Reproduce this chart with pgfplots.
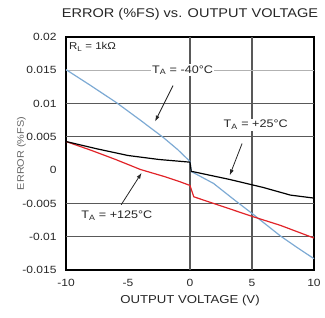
\documentclass[border=0pt]{standalone}
\usepackage{fontspec}
\setmainfont{Liberation Sans}[FakeStretch=1.15]
\usepackage{pgfplots}
\pgfplotsset{compat=1.18}
\usetikzlibrary{arrows.meta}
\definecolor{cblue}{RGB}{125,170,212}
\definecolor{cred}{RGB}{225,35,40}
\begin{document}
\begin{tikzpicture}
\useasboundingbox (0,0) rectangle (325bp,318bp);
\begin{axis}[
  at={(66bp,48bp)}, anchor=south west,
  scale only axis, width=248bp, height=233bp,
  xmin=-10, xmax=10, ymin=-0.015, ymax=0.02,
  xtick={-10,-5,0,5,10},
  xticklabels={-10,-5,0,5,10},
  ytick={-0.015,-0.01,-0.005,0,0.005,0.01,0.015,0.02},
  yticklabels={-0.015,-0.01,-0.005,0,0.005,0.01,0.015,0.02},
  scaled y ticks=false,
  major tick length=0pt,
  axis line style={line width=1.6pt},
  tick label style={font=\fontsize{10.5}{12}\selectfont, text=black!85},
  xticklabel style={yshift=-6bp},
  yticklabel style={xshift=-6bp},
  title={ERROR (\%FS) vs. OUTPUT VOLTAGE},
  title style={font=\fontsize{12.7}{14}\selectfont, text=black!85, at={(axis description cs:0.5,1)}, anchor=center, yshift=17bp},
  xlabel={OUTPUT VOLTAGE (V)},
  xlabel style={font=\fontsize{11.5}{13}\selectfont, text=black!85, at={(axis description cs:0.5,0)}, anchor=center, yshift=-31bp},
  ylabel={ERROR (\%FS)},
  ylabel style={font=\fontsize{9.5}{11}\selectfont, text=black!60, at={(axis description cs:-0.18,0.5)}, anchor=center, rotate=0},
  clip=false,
]
\addplot[draw=black!65, line width=1.1pt, forget plot] coordinates {(0,-0.015) (0,0.02)};
\addplot[draw=black!65, line width=1.1pt, forget plot] coordinates {(5,-0.015) (5,0.02)};
\addplot[fill=black!65, draw=none, forget plot] coordinates {(-10,-0.01009) (10,-0.01009) (10,-0.00991) (-10,-0.00991)} -- cycle;
\addplot[fill=black!65, draw=none, forget plot] coordinates {(-10,-0.00509) (10,-0.00509) (10,-0.00491) (-10,-0.00491)} -- cycle;
\addplot[fill=black!65, draw=none, forget plot] coordinates {(-10,0.00491) (10,0.00491) (10,0.00509) (-10,0.00509)} -- cycle;
\addplot[fill=black!65, draw=none, forget plot] coordinates {(-10,0.00991) (10,0.00991) (10,0.01009) (-10,0.01009)} -- cycle;
\addplot[fill=black!30, draw=none, forget plot] coordinates {(-10,0.01491) (10,0.01491) (10,0.01509) (-10,0.01509)} -- cycle;
\addplot[cblue, line width=1.2pt] coordinates {
 (-10,0.0151) (-8,0.0127) (-5.9,0.0101) (-4,0.0075) (-2.15,0.0049) (-1,0.0031) (0,0.0013)
 (0.1,-0.0002) (1.9,-0.0020) (3.6,-0.0045) (5,-0.0065) (7.3,-0.0099) (8.7,-0.0117) (10,-0.0133)};
\addplot[cred, line width=1.2pt] coordinates {
 (-10,0.0043) (-8,0.0030) (-6,0.0016) (-4,0.0001) (-2,-0.0010) (-0.8,-0.00175) (0,-0.0023)
 (0.3,-0.0040) (1.9,-0.0050) (5.1,-0.0070) (7.3,-0.0083) (10,-0.0102)};
\addplot[black, line width=1.2pt] coordinates {
 (-10,0.0043) (-7.5,0.0032) (-5,0.0022) (-2.5,0.0016) (0,0.0012)
 (0.1,-0.0002) (0.3,-0.00025) (3.2,-0.0014) (5.9,-0.0026) (8.1,-0.00375) (10,-0.0042)};
\node[fill=white, inner sep=1.5pt, font=\fontsize{11}{12}\selectfont, text=black!85] at (axis cs:-0.6,0.015) {T\textsubscript{A} = -40°C};
\draw[black!85, line width=0.8pt, -{Latex[length=6pt,width=4pt]}] (axis cs:-1.37,0.0127) -- (axis cs:-2.82,0.0073);
\node[fill=white, inner sep=1.5pt, font=\fontsize{11}{12}\selectfont, text=black!85] at (axis cs:5.3,0.0068) {T\textsubscript{A} = +25°C};
\draw[black!85, line width=0.8pt, -{Latex[length=6pt,width=4pt]}] (axis cs:4.2,0.0040) -- (axis cs:3.2,-0.0008);
\node[fill=white, inner sep=1.5pt, font=\fontsize{11}{12}\selectfont, text=black!85] at (axis cs:-5.9,-0.0068) {T\textsubscript{A} = +125°C};
\draw[black!85, line width=0.8pt, -{Latex[length=6pt,width=4pt]}] (axis cs:-5.55,-0.0052) -- (axis cs:-3.9,-0.0004);
\node[anchor=west, inner sep=1pt, font=\fontsize{10}{11}\selectfont, text=black!85] at (axis cs:-9.85,0.0185) {R\textsubscript{L} = 1kΩ};
\end{axis}
\end{tikzpicture}
\end{document}
